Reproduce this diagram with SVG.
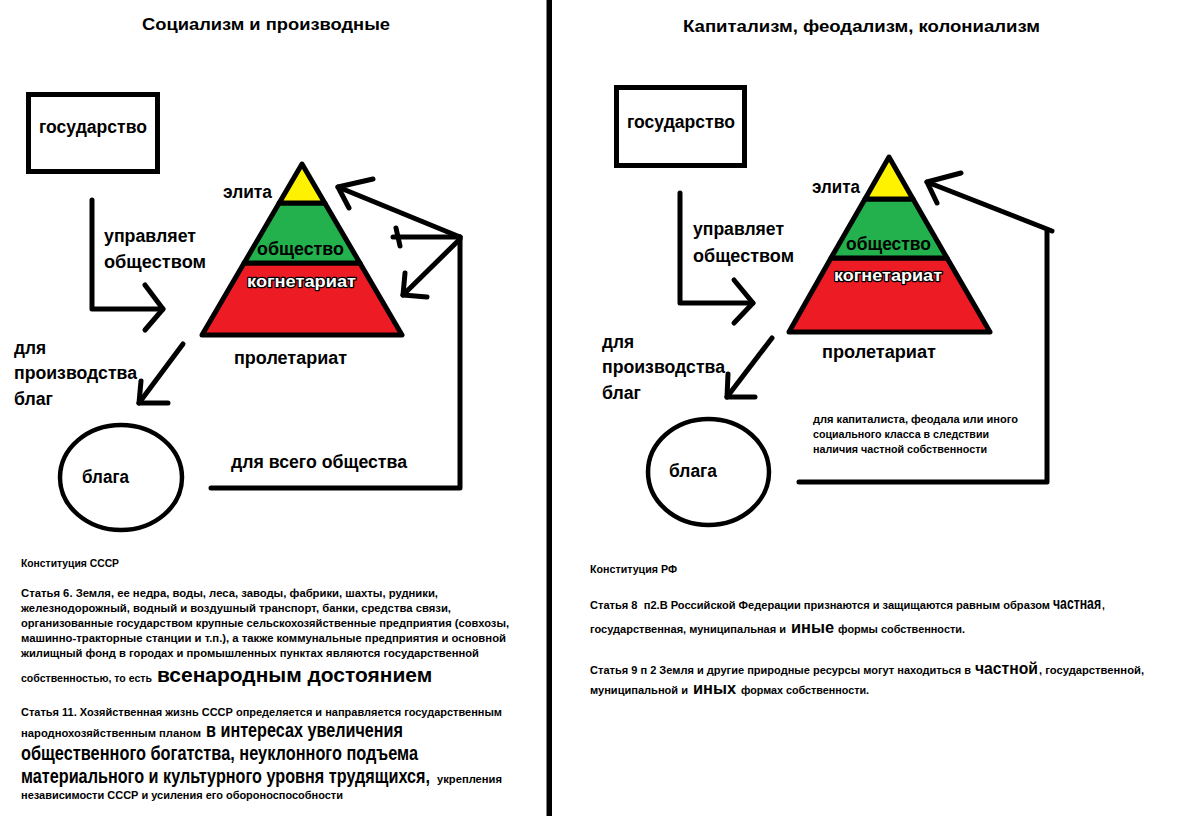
<svg xmlns="http://www.w3.org/2000/svg" width="1203" height="816" viewBox="0 0 1203 816">
<style>
text{font-family:"Liberation Sans",Arial,sans-serif;font-weight:bold;fill:#000}
.ttl{font-size:17px}
.lbl{font-size:18px}
.kog{font-size:17px;fill:#fff;stroke:#000;stroke-width:2.4px;paint-order:stroke;stroke-linejoin:round}
.b{font-size:10.5px}
.bs{font-size:10px}
.big{font-size:20px}
.big2{font-size:17px}
.line{stroke:#000;stroke-width:5;fill:none;stroke-linecap:round;stroke-linejoin:round}
.box{stroke:#000;stroke-width:5;fill:none}
.tri{stroke:#000;stroke-width:5;stroke-linejoin:round}
.y{fill:#fff200}.g{fill:#22b14c}.r{fill:#ed1c24}
</style>
<rect width="1203" height="816" fill="#fff"/>
<rect x="546.5" y="0" width="5.5" height="816" fill="#000"/>

<!-- LEFT -->
<text id="title-left" class="ttl" x="142" y="30" textLength="248" lengthAdjust="spacingAndGlyphs">Социализм и производные</text>

<g id="state-left">
<rect class="box" x="28.5" y="94.5" width="129" height="77"/>
<text class="lbl" x="39" y="133" textLength="108" lengthAdjust="spacingAndGlyphs">государство</text>
</g>

<g id="pyramid-left">
<polygon class="tri r" points="244.1,263 359.9,263 402,335 202,335"/>
<polygon class="tri g" points="279.2,203 324.8,203 359.9,263 244.1,263"/>
<polygon class="tri y" points="302,164 324.8,203 279.2,203"/>
<text class="lbl" x="223" y="198" textLength="49" lengthAdjust="spacingAndGlyphs">элита</text>
<text class="lbl" x="257" y="255" textLength="87" lengthAdjust="spacingAndGlyphs">общество</text>
<text class="kog" x="247" y="287" textLength="109" lengthAdjust="spacingAndGlyphs">когнетариат</text>
<text class="lbl" x="234" y="364" textLength="113" lengthAdjust="spacingAndGlyphs">пролетариат</text>
</g>

<g id="goods-left">
<ellipse cx="121" cy="477.5" rx="61" ry="52.5" fill="none" stroke="#000" stroke-width="4.5"/>
<text class="lbl" x="82" y="483" textLength="47" lengthAdjust="spacingAndGlyphs">блага</text>
</g>

<g id="labels-left">
<text class="lbl" x="104" y="242" textLength="92" lengthAdjust="spacingAndGlyphs">управляет</text>
<text class="lbl" x="104" y="268" textLength="102" lengthAdjust="spacingAndGlyphs">обществом</text>
<text class="lbl" x="14" y="354" textLength="32" lengthAdjust="spacingAndGlyphs">для</text>
<text class="lbl" x="14" y="379" textLength="123" lengthAdjust="spacingAndGlyphs">производства</text>
<text class="lbl" x="14" y="405" textLength="39" lengthAdjust="spacingAndGlyphs">благ</text>
<text class="lbl" x="231" y="468" textLength="176" lengthAdjust="spacingAndGlyphs">для всего общества</text>
</g>

<g id="connectors-left">
<polyline class="line" points="92,200 92,309 163,309"/>
<polyline class="line" points="145,285 163,309 145,330"/>
<line class="line" x1="183" y1="344" x2="139" y2="403"/>
<polyline class="line" points="141,381 139,403 168,403"/>
<polyline class="line" points="211,488 460,488 460,237"/>
<line class="line" x1="460" y1="237" x2="338" y2="187"/>
<polyline class="line" points="373,179 338,187 349,208"/>
<line class="line" x1="460" y1="237" x2="393" y2="237"/>
<line class="line" x1="396" y1="228" x2="400" y2="246"/>
<line class="line" x1="460" y1="239" x2="403" y2="295"/>
<polyline class="line" points="405,273 403,295 427,297"/>
</g>

<g id="text-ussr">
<text class="b" x="21" y="567" textLength="98" lengthAdjust="spacingAndGlyphs">Конституция СССР</text>
<text class="b" x="21" y="597" textLength="417" lengthAdjust="spacingAndGlyphs">Статья 6. Земля, ее недра, воды, леса, заводы, фабрики, шахты, рудники,</text>
<text class="b" x="21" y="612" textLength="430" lengthAdjust="spacingAndGlyphs">железнодорожный, водный и воздушный транспорт, банки, средства связи,</text>
<text class="b" x="21" y="627" textLength="488" lengthAdjust="spacingAndGlyphs">организованные государством крупные сельскохозяйственные предприятия (совхозы,</text>
<text class="b" x="21" y="642" textLength="485" lengthAdjust="spacingAndGlyphs">машинно-тракторные станции и т.п.), а также коммунальные предприятия и основной</text>
<text class="b" x="21" y="657" textLength="458" lengthAdjust="spacingAndGlyphs">жилищный фонд в городах и промышленных пунктах являются государственной</text>
<text class="b" x="21" y="682" textLength="131" lengthAdjust="spacingAndGlyphs">собственностью, то есть</text>
<text class="big" transform="translate(157,682) scale(0.86,1)" font-size="21" textLength="320" lengthAdjust="spacingAndGlyphs">всенародным достоянием</text>
<text class="b" x="21" y="716" textLength="481" lengthAdjust="spacingAndGlyphs">Статья 11. Хозяйственная жизнь СССР определяется и направляется государственным</text>
<text class="b" x="21" y="737" textLength="180" lengthAdjust="spacingAndGlyphs">народнохозяйственным планом</text>
<text class="big" transform="translate(206,737) scale(0.84,1)" textLength="234.5" lengthAdjust="spacingAndGlyphs">в интересах увеличения</text>
<text class="big" transform="translate(21,760) scale(0.84,1)" textLength="472.6" lengthAdjust="spacingAndGlyphs">общественного богатства, неуклонного подъема</text>
<text class="big" transform="translate(21,783) scale(0.81,1)" textLength="505" lengthAdjust="spacingAndGlyphs">материального и культурного уровня трудящихся,</text>
<text class="b" x="437" y="783" textLength="65" lengthAdjust="spacingAndGlyphs">укрепления</text>
<text class="b" x="21" y="799" textLength="322" lengthAdjust="spacingAndGlyphs">независимости СССР и усиления его обороноспособности</text>
</g>

<!-- RIGHT -->
<text id="title-right" class="ttl" x="683" y="32" textLength="357" lengthAdjust="spacingAndGlyphs">Капитализм, феодализм, колониализм</text>

<g id="state-right">
<rect class="box" x="616.5" y="87.5" width="128" height="78"/>
<text class="lbl" x="627" y="128" textLength="108" lengthAdjust="spacingAndGlyphs">государство</text>
</g>

<g id="pyramid-right">
<polygon class="tri r" points="831,258 947,258 990,332 789,332"/>
<polygon class="tri g" points="865,199 913,199 947,258 831,258"/>
<polygon class="tri y" points="889,157 913,199 865,199"/>
<text class="lbl" x="812" y="193" textLength="48" lengthAdjust="spacingAndGlyphs">элита</text>
<text class="lbl" x="846" y="250" textLength="85" lengthAdjust="spacingAndGlyphs">общество</text>
<text class="kog" x="834" y="281" textLength="108" lengthAdjust="spacingAndGlyphs">когнетариат</text>
<text class="lbl" x="822" y="358" textLength="114" lengthAdjust="spacingAndGlyphs">пролетариат</text>
</g>

<g id="goods-right">
<ellipse cx="708.5" cy="472" rx="60.5" ry="53" fill="none" stroke="#000" stroke-width="4.5"/>
<text class="lbl" x="669" y="477" textLength="48" lengthAdjust="spacingAndGlyphs">блага</text>
</g>

<g id="labels-right">
<text class="lbl" x="693" y="235" textLength="91" lengthAdjust="spacingAndGlyphs">управляет</text>
<text class="lbl" x="693" y="262" textLength="101" lengthAdjust="spacingAndGlyphs">обществом</text>
<text class="lbl" x="602" y="348" textLength="32" lengthAdjust="spacingAndGlyphs">для</text>
<text class="lbl" x="602" y="373" textLength="123" lengthAdjust="spacingAndGlyphs">производства</text>
<text class="lbl" x="602" y="399" textLength="39" lengthAdjust="spacingAndGlyphs">благ</text>
<text class="bs" x="813" y="423" textLength="205" lengthAdjust="spacingAndGlyphs">для капиталиста, феодала или иного</text>
<text class="bs" x="813" y="438" textLength="176" lengthAdjust="spacingAndGlyphs">социального класса в следствии</text>
<text class="bs" x="813" y="453" textLength="174" lengthAdjust="spacingAndGlyphs">наличия частной собственности</text>
</g>

<g id="connectors-right">
<polyline class="line" points="680,193 680,303 753,303"/>
<polyline class="line" points="734,280 753,303 734,323"/>
<line class="line" x1="772" y1="338" x2="727" y2="397"/>
<polyline class="line" points="728,374 727,397 755,397"/>
<polyline class="line" points="799,482 1047,482 1047,231"/>
<line class="line" x1="1052" y1="231" x2="927" y2="182"/>
<polyline class="line" points="961,173 927,182 937,203"/>
</g>

<g id="text-rf">
<text class="bs" x="590" y="573" textLength="87" lengthAdjust="spacingAndGlyphs">Конституция РФ</text>
<text class="bs" x="590" y="609" textLength="460" lengthAdjust="spacingAndGlyphs">Статья 8&#160; п2.В Российской Федерации признаются и защищаются равным образом</text>
<text class="big2" transform="translate(1053,609) scale(0.7,1)" textLength="68.6" lengthAdjust="spacingAndGlyphs">частная</text>
<text class="bs" x="1102" y="609">,</text>
<text class="bs" x="590" y="633" textLength="196" lengthAdjust="spacingAndGlyphs">государственная, муниципальная и</text>
<text class="big2" transform="translate(791,633) scale(0.75,1)" textLength="57.3" lengthAdjust="spacingAndGlyphs">иные</text>
<text class="bs" x="838" y="633" textLength="127" lengthAdjust="spacingAndGlyphs">формы собственности.</text>
<text class="bs" x="590" y="674" textLength="381" lengthAdjust="spacingAndGlyphs">Статья 9 п 2 Земля и другие природные ресурсы могут находиться в</text>
<text class="big2" transform="translate(975,674) scale(0.8,1)" textLength="78.8" lengthAdjust="spacingAndGlyphs">частной</text>
<text class="bs" x="1039" y="674" textLength="105" lengthAdjust="spacingAndGlyphs">, государственной,</text>
<text class="bs" x="590" y="694" textLength="98" lengthAdjust="spacingAndGlyphs">муниципальной и</text>
<text class="big2" transform="translate(693,694) scale(0.75,1)" textLength="57.3" lengthAdjust="spacingAndGlyphs">иных</text>
<text class="bs" x="741" y="694" textLength="128" lengthAdjust="spacingAndGlyphs">формах собственности.</text>
</g>
</svg>
